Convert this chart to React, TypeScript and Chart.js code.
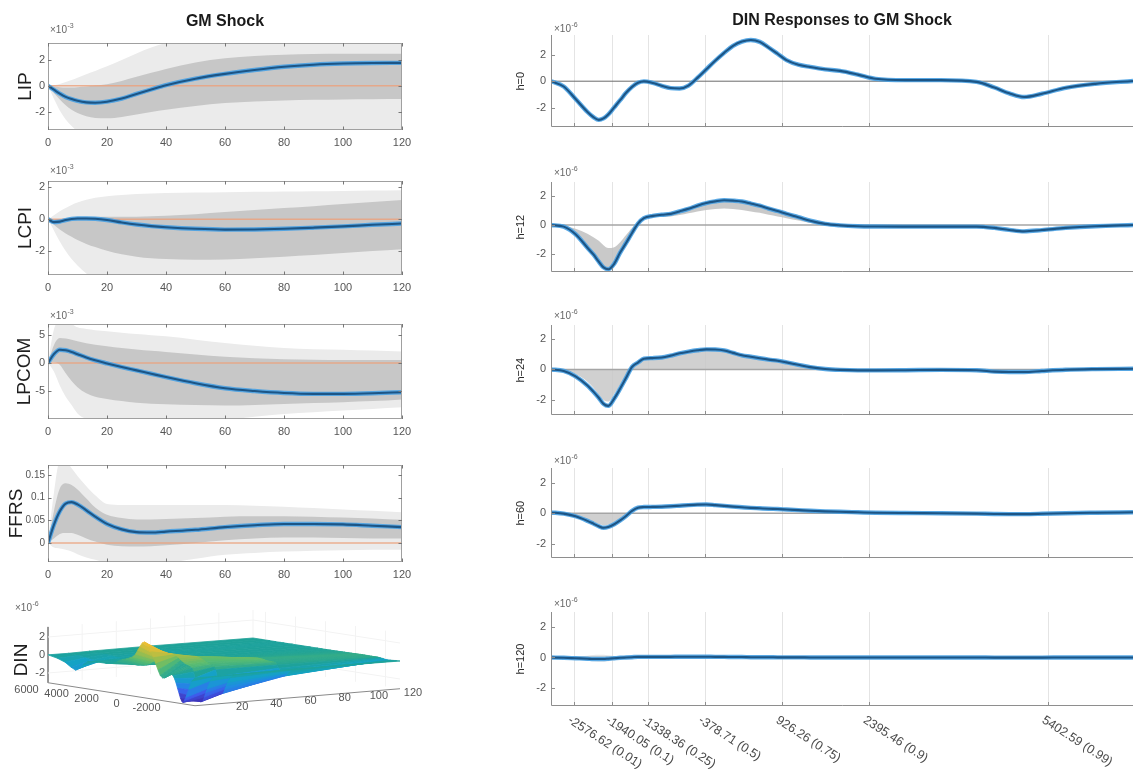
import React, { useEffect, useRef } from 'react';
import { Chart, registerables } from 'chart.js';

Chart.register(...registerables);

const FONT = '"Liberation Sans", Arial, Helvetica, sans-serif';
Chart.defaults.font.family = FONT;

// ---------------- Left column data (impulse responses to GM shock) ----------------
const H_GRID = [0, 2, 4, 6, 8, 10, 13, 16, 20, 25, 30, 35, 40, 50, 60, 70, 80, 90, 100, 110, 120];
const X_TICKS_LEFT = [0, 20, 40, 60, 80, 100, 120];

const LIP_LINE = [0, -0.3, -0.6, -0.85, -1.02, -1.15, -1.27, -1.3, -1.22, -0.98, -0.62, -0.28, 0.05, 0.55, 0.92, 1.22, 1.47, 1.63, 1.72, 1.76, 1.77];
const LIP_DARK_HI = [0, -0.05, -0.1, -0.12, -0.12, -0.1, -0.05, 0.02, 0.12, 0.38, 0.7, 1.0, 1.3, 1.8, 2.12, 2.3, 2.4, 2.45, 2.47, 2.48, 2.48];
const LIP_DARK_LO = [0, -0.55, -1.05, -1.5, -1.85, -2.1, -2.35, -2.48, -2.5, -2.4, -2.2, -2.02, -1.85, -1.55, -1.32, -1.2, -1.12, -1.08, -1.05, -1.03, -1.02];
const LIP_LIGHT_HI = [0, 0.05, 0.15, 0.3, 0.45, 0.62, 0.9, 1.15, 1.5, 2.0, 2.5, 2.95, 3.3, 3.8, 4.0, 4.0, 4.0, 4.0, 4.0, 4.0, 4.0];
const LIP_LIGHT_LO = [0, -1.0, -1.9, -2.6, -3.1, -3.5, -3.8, -4.0, -4.0, -4.0, -4.0, -4.0, -4.0, -4.0, -4.0, -4.0, -4.0, -4.0, -4.0, -4.0, -4.0];

const LCPI_LINE = [0, -0.18, -0.15, -0.05, 0.02, 0.05, 0.05, 0.03, -0.05, -0.2, -0.33, -0.43, -0.5, -0.6, -0.65, -0.64, -0.6, -0.53, -0.45, -0.35, -0.27];
const LCPI_DARK_HI = [0, 0, 0.02, 0.05, 0.08, 0.1, 0.12, 0.14, 0.15, 0.15, 0.15, 0.18, 0.22, 0.32, 0.45, 0.58, 0.7, 0.82, 0.95, 1.08, 1.2];
const LCPI_DARK_LO = [0, -0.35, -0.65, -0.9, -1.1, -1.3, -1.55, -1.75, -1.98, -2.2, -2.35, -2.45, -2.5, -2.55, -2.52, -2.45, -2.35, -2.25, -2.12, -2.0, -1.88];
const LCPI_LIGHT_HI = [0, 0.25, 0.5, 0.7, 0.9, 1.05, 1.22, 1.35, 1.45, 1.52, 1.58, 1.62, 1.65, 1.68, 1.7, 1.72, 1.74, 1.76, 1.78, 1.8, 1.82];
const LCPI_LIGHT_LO = [0, -0.7, -1.4, -2.0, -2.5, -2.9, -3.4, -3.8, -4.0, -4.0, -4.0, -4.0, -4.0, -4.0, -4.0, -4.0, -4.0, -4.0, -4.0, -4.0, -4.0];

const LPCOM_LINE = [0, 1.6, 2.4, 2.3, 2.0, 1.6, 1.0, 0.5, -0.05, -0.7, -1.3, -1.9, -2.5, -3.6, -4.5, -5.0, -5.35, -5.5, -5.5, -5.4, -5.2];
const LPCOM_DARK_HI = [0, 3.2, 4.5, 4.4, 4.2, 3.9, 3.55, 3.3, 3.0, 2.7, 2.45, 2.2, 2.0, 1.55, 1.15, 0.88, 0.7, 0.6, 0.55, 0.55, 0.55];
const LPCOM_DARK_LO = [0, 0.2, -0.3, -1.8, -3.2, -4.3, -5.4, -6.0, -6.4, -6.8, -7.1, -7.25, -7.35, -7.5, -7.6, -7.5, -7.3, -7.15, -7.0, -6.8, -6.5];
const LPCOM_LIGHT_HI = [0, 6.0, 7.5, 7.5, 7.0, 6.4, 6.1, 5.9, 5.7, 5.45, 5.2, 5.0, 4.8, 4.2, 3.6, 3.1, 2.7, 2.5, 2.4, 2.25, 2.1];
const LPCOM_LIGHT_LO = [0, -1.5, -4.0, -6.0, -7.5, -9.0, -10.0, -10.5, -10.5, -10.5, -10.5, -10.5, -10.5, -10.5, -10.2, -9.6, -9.1, -8.8, -8.5, -8.2, -7.9];

const FFRS_LINE = [0, 0.04, 0.07, 0.087, 0.09, 0.085, 0.072, 0.058, 0.042, 0.03, 0.024, 0.023, 0.025, 0.029, 0.035, 0.039, 0.042, 0.042, 0.041, 0.038, 0.035];
const FFRS_DARK_HI = [0, 0.07, 0.12, 0.132, 0.128, 0.118, 0.098, 0.078, 0.062, 0.055, 0.052, 0.052, 0.053, 0.055, 0.058, 0.059, 0.059, 0.058, 0.056, 0.054, 0.051];
const FFRS_DARK_LO = [0, 0.01, 0.02, 0.022, 0.022, 0.018, 0.01, 0.003, -0.004, -0.007, -0.008, -0.007, -0.005, 0, 0.006, 0.01, 0.012, 0.012, 0.011, 0.01, 0.01];
const FFRS_LIGHT_HI = [0, 0.11, 0.18, 0.18, 0.165, 0.148, 0.125, 0.105, 0.086, 0.084, 0.084, 0.084, 0.084, 0.084, 0.084, 0.082, 0.08, 0.077, 0.074, 0.071, 0.068];
const FFRS_LIGHT_LO = [0, -0.01, -0.012, -0.015, -0.019, -0.025, -0.032, -0.037, -0.045, -0.05, -0.05, -0.05, -0.045, -0.035, -0.026, -0.022, -0.019, -0.017, -0.016, -0.015, -0.015];

const Y_TICKS_LIP = [-2, 0, 2];
const Y_TICKS_LCPI = [-2, 0, 2];
const Y_TICKS_LPCOM = [-5, 0, 5];
const Y_TICKS_FFRS = [0, 0.05, 0.1, 0.15];

// ---------------- Right column data (DIN responses, x10^-6) ----------------
const QGRID = [-2964, -2750, -2550, -2350, -2250, -2160, -2080, -2000, -1900, -1800, -1700, -1600, -1500, -1400, -1250, -1100, -950, -800, -650, -500, -350, -200, -50, 100, 250, 400, 550, 700, 850, 1000, 1200, 1400, 1650, 1900, 2200, 2500, 3000, 3600, 4200, 4500, 4750, 5000, 5300, 5700, 6200, 6833];
const Q_TICKS = [-2576.62, -1940.05, -1338.36, -378.71, 926.26, 2395.46, 5402.59];
const Q_TICK_LABELS = ['-2576.62 (0.01)', '-1940.05 (0.1)', '-1338.36 (0.25)', '-378.71 (0.5)', '926.26 (0.75)', '2395.46 (0.9)', '5402.59 (0.99)'];
const Y_TICKS_DIN = [-2, 0, 2];

const DIN_H0 = [0, -0.4, -1.35, -2.33, -2.72, -2.93, -2.82, -2.52, -1.98, -1.44, -0.88, -0.43, -0.12, -0.01, -0.13, -0.35, -0.52, -0.55, -0.33, 0.25, 0.9, 1.55, 2.15, 2.68, 3.0, 3.12, 2.98, 2.55, 2.08, 1.6, 1.25, 1.08, 0.9, 0.78, 0.5, 0.18, 0.08, 0.08, -0.05, -0.48, -0.92, -1.2, -0.95, -0.5, -0.2, 0.02];
const DIN_H12 = [0, -0.11, -0.64, -1.58, -2.05, -2.55, -2.95, -3.08, -2.7, -1.92, -1.25, -0.55, 0.1, 0.48, 0.64, 0.72, 0.78, 0.95, 1.13, 1.35, 1.53, 1.65, 1.73, 1.7, 1.64, 1.5, 1.35, 1.15, 0.98, 0.78, 0.55, 0.3, 0.08, -0.02, -0.08, -0.1, -0.11, -0.11, -0.11, -0.2, -0.34, -0.44, -0.35, -0.2, -0.08, 0];
const DIN_H24 = [0, -0.1, -0.45, -1.05, -1.45, -1.85, -2.25, -2.38, -1.9, -1.25, -0.55, 0.17, 0.45, 0.7, 0.74, 0.78, 0.9, 1.05, 1.16, 1.25, 1.31, 1.3, 1.24, 1.08, 0.92, 0.83, 0.73, 0.64, 0.57, 0.46, 0.3, 0.15, 0.03, -0.03, -0.06, -0.06, -0.05, -0.03, -0.05, -0.14, -0.17, -0.17, -0.1, -0.02, 0.02, 0.04];
const DIN_H60 = [0.05, -0.03, -0.2, -0.5, -0.68, -0.85, -0.95, -0.9, -0.72, -0.47, -0.18, 0.15, 0.36, 0.4, 0.41, 0.42, 0.45, 0.49, 0.53, 0.56, 0.57, 0.53, 0.48, 0.43, 0.39, 0.35, 0.32, 0.29, 0.27, 0.24, 0.2, 0.16, 0.12, 0.09, 0.06, 0.03, 0.01, 0, -0.03, -0.05, -0.06, -0.06, -0.04, 0, 0.03, 0.06];
const DIN_H120 = [0, -0.02, -0.05, -0.08, -0.1, -0.1, -0.1, -0.08, -0.05, -0.02, 0, 0.02, 0.04, 0.04, 0.04, 0.04, 0.04, 0.05, 0.05, 0.05, 0.05, 0.04, 0.04, 0.03, 0.03, 0.02, 0.02, 0.02, 0.01, 0.01, 0.01, 0, 0, 0, 0, 0, 0, 0, 0, -0.01, -0.01, -0.01, -0.01, 0, 0, 0];

// grey shaded regions
const GRAY12_HI = [0, -0.05, -0.25, -0.6, -0.85, -1.1, -1.4, -1.6, -1.55, -1.2, -0.7, -0.2, 0.1, 0.48, 0.64, 0.72, 0.78, 0.95, 1.13, 1.35, 1.53, 1.65, 1.73, 1.7, 1.64, 1.5, 1.35, 1.15, 0.98, 0.78, 0.55, 0.3, 0.08, -0.02, -0.08, -0.1, -0.11, -0.11, -0.11, -0.2, -0.34, -0.44, -0.35, -0.2, -0.08, 0];
const GRAY12_LO = [0, -0.11, -0.64, -1.58, -2.05, -2.55, -2.95, -3.08, -2.7, -1.92, -1.25, -0.55, 0.1, 0.4, 0.52, 0.58, 0.6, 0.7, 0.82, 0.95, 1.05, 1.12, 1.15, 1.12, 1.05, 0.95, 0.85, 0.72, 0.6, 0.48, 0.32, 0.15, 0.03, -0.02, -0.08, -0.1, -0.11, -0.11, -0.11, -0.2, -0.34, -0.44, -0.35, -0.2, -0.08, 0];
const GRAY24_HI = [0, 0, 0, 0, 0, 0, 0, 0, 0, 0, 0, 0.12, 0.42, 0.65, 0.7, 0.74, 0.85, 0.98, 1.1, 1.2, 1.26, 1.25, 1.19, 1.04, 0.88, 0.78, 0.68, 0.6, 0.52, 0.42, 0.28, 0.14, 0.03, 0, 0, 0, 0, 0, 0, 0, 0, 0, 0, 0, 0, 0];
const GRAY24_LO = [0, -0.05, -0.3, -0.8, -1.2, -1.65, -2.0, -2.1, -1.6, -1.0, -0.4, 0, 0, 0, 0, 0, 0, 0, 0, 0, 0, 0, 0, 0, 0, 0, 0, 0, 0, 0, 0, 0, 0, 0, 0, 0, 0, 0, 0, 0, 0, 0, 0, 0, 0, 0];
const GRAY60_HI = [0, 0, 0, 0, 0, 0, 0, 0, 0, 0, 0, 0, 0, 0, 0, 0, 0, 0, 0, 0, 0, 0, 0, 0, 0, 0, 0, 0, 0, 0, 0, 0, 0, 0, 0, 0, 0, 0, 0, 0, 0, 0, 0, 0, 0, 0];
const GRAY60_LO = [0, -0.02, -0.15, -0.4, -0.55, -0.7, -0.78, -0.75, -0.58, -0.35, -0.12, 0, 0, 0, 0, 0, 0, 0, 0, 0, 0, 0, 0, 0, 0, 0, 0, 0, 0, 0, 0, 0, 0, 0, 0, 0, 0, 0, 0, 0, 0, 0, 0, 0, 0, 0];
const GRAY120_HI = [0, 0.02, 0.06, 0.12, 0.16, 0.18, 0.18, 0.15, 0.1, 0.05, 0, 0, 0, 0, 0, 0, 0, 0, 0, 0, 0, 0, 0, 0, 0, 0, 0, 0, 0, 0, 0, 0, 0, 0, 0, 0, 0, 0, 0, 0, 0, 0, 0, 0, 0, 0];
const GRAY120_LO = [0, -0.05, -0.12, -0.2, -0.25, -0.28, -0.28, -0.25, -0.18, -0.1, 0, 0, 0, 0, 0, 0, 0, 0, 0, 0, 0, 0, 0, 0, 0, 0, 0, 0, 0, 0, 0, 0, 0, 0, 0, 0, 0, 0, 0, 0, 0, 0, 0, 0, 0, 0];

// 3D surface horizons
const H3 = [0, 12, 24, 60, 120];
const H3_TICKS = [20, 40, 60, 80, 100, 120];
const Q3_TICKS = [6000, 4000, 2000, 0, -2000];
const Z3_TICKS = [2, 0, -2];

const Q_MIN = QGRID[0];
const Q_MAX = QGRID[QGRID.length - 1];

// ---------------- styles / layout ----------------
const LINE_CORE = '#1c5586';
const LINE_HALO = 'rgba(72,160,226,0.9)';
const ORANGE = 'rgba(236,160,122,0.8)';
const DARK_BAND = '#c7c7c7';
const LIGHT_BAND = '#ebebeb';
const TICK_COLOR = '#555';

const LEFT_CANVAS_W = 424;
const LEFT_AREA_L = 48;
const LEFT_AREA_R = 402;
const LEFT_PAD_BOTTOM = 24;

const RIGHT_CANVAS_L = 490;
const RIGHT_CANVAS_W = 644;
const RIGHT_AREA_L = 551;
const RIGHT_AREA_R = 1133;

const P3 = { ox: 195, oy: 678, qx: -147, qy: -23, hx: 205, hy: -17, kz: 9 };
const C3 = { left: 0, top: 595, width: 430, height: 125 };

const PARULA = [
  [0.0, 62, 38, 168],
  [0.15, 62, 92, 236],
  [0.3, 32, 140, 226],
  [0.42, 20, 163, 196],
  [0.5, 30, 162, 152],
  [0.62, 90, 188, 112],
  [0.75, 170, 190, 70],
  [0.87, 240, 190, 50],
  [1.0, 250, 238, 22],
];

function parula(t: number): string {
  const tt = Math.max(0, Math.min(1, t));
  for (let k = 0; k < PARULA.length - 1; k++) {
    const a = PARULA[k];
    const b = PARULA[k + 1];
    if (tt <= b[0]) {
      const f = (tt - a[0]) / (b[0] - a[0]);
      const r = Math.round(a[1] + (b[1] - a[1]) * f);
      const g = Math.round(a[2] + (b[2] - a[2]) * f);
      const bl = Math.round(a[3] + (b[3] - a[3]) * f);
      return `rgb(${r},${g},${bl})`;
    }
  }
  return 'rgb(250,238,22)';
}

const pts = (xs: number[], ys: number[]) => xs.map((x, i) => ({ x, y: ys[i] }));

function drawExp(ctx: CanvasRenderingContext2D, x: number, y: number, exp: string) {
  ctx.save();
  ctx.fillStyle = '#666';
  ctx.textAlign = 'left';
  ctx.textBaseline = 'alphabetic';
  ctx.font = `10px ${FONT}`;
  ctx.fillText('×10', x, y);
  const w = ctx.measureText('×10').width;
  ctx.font = `7px ${FONT}`;
  ctx.fillText(exp, x + w + 0.5, y - 5);
  ctx.restore();
}

type LeftSpec = {
  key: string; label: string; labelX: number; tickSize: number; line: number[]; darkHi: number[]; darkLo: number[]; lightHi: number[]; lightLo: number[];
  yMin: number; yMax: number; yTicks: number[]; exp?: string; canvasTop: number; areaTop: number; areaBottom: number;
  expBaseline?: number; title?: string;
};

const LEFT_SPECS: LeftSpec[] = [
  { key: 'LIP', label: 'LIP', labelX: 26, tickSize: 11, line: LIP_LINE, darkHi: LIP_DARK_HI, darkLo: LIP_DARK_LO, lightHi: LIP_LIGHT_HI, lightLo: LIP_LIGHT_LO, yMin: -3.4, yMax: 3.3, yTicks: Y_TICKS_LIP, exp: '-3', canvasTop: 0, areaTop: 43, areaBottom: 130, expBaseline: 33, title: 'GM Shock' },
  { key: 'LCPI', label: 'LCPI', labelX: 26, tickSize: 11, line: LCPI_LINE, darkHi: LCPI_DARK_HI, darkLo: LCPI_DARK_LO, lightHi: LCPI_LIGHT_HI, lightLo: LCPI_LIGHT_LO, yMin: -3.5, yMax: 2.4, yTicks: Y_TICKS_LCPI, exp: '-3', canvasTop: 161, areaTop: 181, areaBottom: 275, expBaseline: 174 },
  { key: 'LPCOM', label: 'LPCOM', labelX: 25, tickSize: 11, line: LPCOM_LINE, darkHi: LPCOM_DARK_HI, darkLo: LPCOM_DARK_LO, lightHi: LPCOM_LIGHT_HI, lightLo: LPCOM_LIGHT_LO, yMin: -10, yMax: 7, yTicks: Y_TICKS_LPCOM, exp: '-3', canvasTop: 304, areaTop: 324, areaBottom: 419, expBaseline: 319 },
  { key: 'FFRS', label: 'FFRS', labelX: 17, tickSize: 10, line: FFRS_LINE, darkHi: FFRS_DARK_HI, darkLo: FFRS_DARK_LO, lightHi: FFRS_LIGHT_HI, lightLo: FFRS_LIGHT_LO, yMin: -0.042, yMax: 0.172, yTicks: Y_TICKS_FFRS, canvasTop: 445, areaTop: 465, areaBottom: 562 },
];

type RightSpec = {
  key: string; label: string; line: number[]; grayHi?: number[]; grayLo?: number[]; grayColor?: string;
  yMin: number; yMax: number; canvasTop: number; areaTop: number; areaBottom: number; padBottom: number;
  expBaseline: number; title?: string; xLabels?: boolean; zeroColor: string; zeroWidth: number;
};

const RIGHT_SPECS: RightSpec[] = [
  { key: 'h0', label: 'h=0', line: DIN_H0, yMin: -3.5, yMax: 3.5, canvasTop: 0, areaTop: 35, areaBottom: 131, padBottom: 8, expBaseline: 32, title: 'DIN Responses to GM Shock', zeroColor: '#6a6a6a', zeroWidth: 1 },
  { key: 'h12', label: 'h=12', line: DIN_H12, grayHi: GRAY12_HI, grayLo: GRAY12_LO, grayColor: 'rgba(192,192,192,0.85)', yMin: -3.3, yMax: 3.0, canvasTop: 160, areaTop: 182, areaBottom: 276, padBottom: 8, expBaseline: 176, zeroColor: '#a5a5a5', zeroWidth: 1.6 },
  { key: 'h24', label: 'h=24', line: DIN_H24, grayHi: GRAY24_HI, grayLo: GRAY24_LO, grayColor: 'rgba(200,200,200,0.85)', yMin: -3.0, yMax: 2.9, canvasTop: 303, areaTop: 325, areaBottom: 419, padBottom: 8, expBaseline: 319, zeroColor: '#a5a5a5', zeroWidth: 1.6 },
  { key: 'h60', label: 'h=60', line: DIN_H60, grayHi: GRAY60_HI, grayLo: GRAY60_LO, grayColor: 'rgba(200,200,200,0.85)', yMin: -2.95, yMax: 2.95, canvasTop: 446, areaTop: 468, areaBottom: 562, padBottom: 8, expBaseline: 464, zeroColor: '#a5a5a5', zeroWidth: 1.6 },
  { key: 'h120', label: 'h=120', line: DIN_H120, grayHi: GRAY120_HI, grayLo: GRAY120_LO, grayColor: 'rgba(215,215,215,0.6)', yMin: -3.2, yMax: 3.0, canvasTop: 590, areaTop: 612, areaBottom: 706, padBottom: 70, expBaseline: 607, xLabels: true, zeroColor: '#a5a5a5', zeroWidth: 1.6 },
];

const fixedTicks = (vals: number[]) => (scale: any) => {
  scale.ticks = vals.map((v) => ({ value: v }));
};

function lineDatasets(xs: number[], ys: number[]) {
  return [
    { data: pts(xs, ys), borderColor: LINE_CORE, borderWidth: 2.1, fill: false, cubicInterpolationMode: 'monotone' },
    { data: pts(xs, ys), borderColor: LINE_HALO, borderWidth: 4.4, fill: false, cubicInterpolationMode: 'monotone' },
  ];
}

function bandDatasets(xs: number[], hi: number[], lo: number[], color: string) {
  return [
    { data: pts(xs, hi), borderColor: 'transparent', borderWidth: 0, fill: '+1', backgroundColor: color, cubicInterpolationMode: 'monotone' },
    { data: pts(xs, lo), borderColor: 'transparent', borderWidth: 0, fill: false, cubicInterpolationMode: 'monotone' },
  ];
}

function buildLeft(s: LeftSpec) {
  const padTop = s.areaTop - s.canvasTop;
  const decor = {
    id: 'decorLeft',
    afterDraw(chart: any) {
      const { ctx, chartArea: a, scales } = chart;
      ctx.save();
      ctx.strokeStyle = '#a0a0a0';
      ctx.lineWidth = 1;
      ctx.strokeRect(Math.round(a.left) + 0.5, Math.round(a.top) + 0.5, Math.round(a.right - a.left) - 1, Math.round(a.bottom - a.top) - 1);
      ctx.strokeStyle = '#777';
      ctx.beginPath();
      for (const v of X_TICKS_LEFT) {
        const x = Math.round(scales.x.getPixelForValue(v)) + 0.5;
        ctx.moveTo(x, a.bottom); ctx.lineTo(x, a.bottom - 3.5);
        ctx.moveTo(x, a.top); ctx.lineTo(x, a.top + 3.5);
      }
      for (const v of s.yTicks) {
        const y = Math.round(scales.y.getPixelForValue(v)) + 0.5;
        ctx.moveTo(a.left, y); ctx.lineTo(a.left + 3.5, y);
        ctx.moveTo(a.right, y); ctx.lineTo(a.right - 3.5, y);
      }
      ctx.stroke();
      ctx.fillStyle = '#1e1e1e';
      ctx.font = `19px ${FONT}`;
      ctx.textAlign = 'center';
      ctx.textBaseline = 'middle';
      ctx.translate(s.labelX, (a.top + a.bottom) / 2);
      ctx.rotate(-Math.PI / 2);
      ctx.fillText(s.label, 0, 0);
      ctx.restore();
      if (s.exp && s.expBaseline !== undefined) drawExp(ctx, a.left + 2, s.expBaseline - s.canvasTop, s.exp);
      if (s.title) {
        ctx.save();
        ctx.fillStyle = '#1a1a1a';
        ctx.font = `bold 16px ${FONT}`;
        ctx.textAlign = 'center';
        ctx.textBaseline = 'middle';
        ctx.fillText(s.title, (a.left + a.right) / 2, 22 - s.canvasTop);
        ctx.restore();
      }
    },
  };
  return {
    type: 'line',
    data: {
      datasets: [
        ...lineDatasets(H_GRID, s.line),
        { data: [{ x: 0, y: 0 }, { x: 120, y: 0 }], borderColor: ORANGE, borderWidth: 1.5, fill: false },
        ...bandDatasets(H_GRID, s.darkHi, s.darkLo, DARK_BAND),
        ...bandDatasets(H_GRID, s.lightHi, s.lightLo, LIGHT_BAND),
      ],
    },
    options: {
      responsive: false,
      animation: false,
      events: [],
      layout: { padding: { top: padTop, right: LEFT_CANVAS_W - LEFT_AREA_R, left: 0, bottom: 0 } },
      plugins: { legend: { display: false }, tooltip: { enabled: false } },
      elements: { point: { radius: 0 } },
      scales: {
        x: {
          type: 'linear', min: 0, max: 120,
          afterBuildTicks: fixedTicks(X_TICKS_LEFT),
          afterFit: (sc: any) => { sc.height = LEFT_PAD_BOTTOM; },
          grid: { display: false, drawTicks: false },
          border: { display: false },
          ticks: { color: TICK_COLOR, font: { size: 11, family: FONT }, padding: 6, maxRotation: 0, autoSkip: false },
        },
        y: {
          type: 'linear', min: s.yMin, max: s.yMax,
          afterBuildTicks: fixedTicks(s.yTicks),
          afterFit: (sc: any) => { sc.width = LEFT_AREA_L; },
          grid: { display: false, drawTicks: false },
          border: { display: false },
          ticks: { color: TICK_COLOR, font: { size: s.tickSize, family: FONT }, padding: 3, autoSkip: false, callback: (v: number) => String(v) },
        },
      },
    },
    plugins: [decor],
  };
}

function buildRight(s: RightSpec) {
  const padTop = s.areaTop - s.canvasTop;
  const grid = {
    id: 'gridRight',
    beforeDraw(chart: any) {
      const { ctx, chartArea: a, scales } = chart;
      ctx.save();
      ctx.strokeStyle = '#e4e4e4';
      ctx.lineWidth = 1;
      ctx.beginPath();
      for (const v of Q_TICKS) {
        const x = Math.round(scales.x.getPixelForValue(v)) + 0.5;
        ctx.moveTo(x, a.top); ctx.lineTo(x, a.bottom);
      }
      ctx.stroke();
      ctx.restore();
    },
  };
  const decor = {
    id: 'decorRight',
    afterDraw(chart: any) {
      const { ctx, chartArea: a, scales } = chart;
      ctx.save();
      ctx.strokeStyle = '#8e8e8e';
      ctx.lineWidth = 1;
      ctx.beginPath();
      const lx = Math.round(a.left) + 0.5;
      const by = Math.round(a.bottom) - 0.5;
      ctx.moveTo(lx, a.top); ctx.lineTo(lx, by); ctx.lineTo(a.right, by);
      for (const v of Q_TICKS) {
        const x = Math.round(scales.x.getPixelForValue(v)) + 0.5;
        ctx.moveTo(x, by); ctx.lineTo(x, by - 3.5);
      }
      for (const v of Y_TICKS_DIN) {
        const y = Math.round(scales.y.getPixelForValue(v)) + 0.5;
        ctx.moveTo(lx, y); ctx.lineTo(lx + 3.5, y);
      }
      ctx.stroke();
      ctx.fillStyle = '#2a2a2a';
      ctx.font = `11px ${FONT}`;
      ctx.textAlign = 'center';
      ctx.textBaseline = 'middle';
      ctx.translate(521 - RIGHT_CANVAS_L, (a.top + a.bottom) / 2);
      ctx.rotate(-Math.PI / 2);
      ctx.fillText(s.label, 0, 0);
      ctx.restore();
      drawExp(ctx, a.left + 3, s.expBaseline - s.canvasTop, '-6');
      if (s.title) {
        ctx.save();
        ctx.fillStyle = '#1a1a1a';
        ctx.font = `bold 16px ${FONT}`;
        ctx.textAlign = 'center';
        ctx.textBaseline = 'middle';
        ctx.fillText(s.title, (a.left + a.right) / 2, 21 - s.canvasTop);
        ctx.restore();
      }
      if (s.xLabels) {
        ctx.save();
        ctx.fillStyle = '#4a4a4a';
        ctx.font = `12.5px ${FONT}`;
        ctx.textAlign = 'left';
        ctx.textBaseline = 'middle';
        Q_TICKS.forEach((v, i) => {
          const x = scales.x.getPixelForValue(v);
          ctx.save();
          ctx.translate(x - 5, a.bottom + 13);
          ctx.rotate((33 * Math.PI) / 180);
          ctx.fillText(Q_TICK_LABELS[i], 0, 0);
          ctx.restore();
        });
        ctx.restore();
      }
    },
  };
  const datasets: any[] = [
    ...lineDatasets(QGRID, s.line),
    { data: [{ x: Q_MIN, y: 0 }, { x: Q_MAX, y: 0 }], borderColor: s.zeroColor, borderWidth: s.zeroWidth, fill: false },
  ];
  if (s.grayHi && s.grayLo) datasets.push(...bandDatasets(QGRID, s.grayHi, s.grayLo, s.grayColor || '#ccc'));
  return {
    type: 'line',
    data: { datasets },
    options: {
      responsive: false,
      animation: false,
      events: [],
      layout: { padding: { top: padTop, right: RIGHT_CANVAS_L + RIGHT_CANVAS_W - RIGHT_AREA_R, left: 0, bottom: 0 } },
      plugins: { legend: { display: false }, tooltip: { enabled: false } },
      elements: { point: { radius: 0 } },
      scales: {
        x: {
          type: 'linear', min: Q_MIN, max: Q_MAX,
          afterFit: (sc: any) => { sc.height = s.padBottom; },
          grid: { display: false, drawTicks: false },
          border: { display: false },
          ticks: { display: false },
        },
        y: {
          type: 'linear', min: s.yMin, max: s.yMax,
          afterBuildTicks: fixedTicks(Y_TICKS_DIN),
          afterFit: (sc: any) => { sc.width = RIGHT_AREA_L - RIGHT_CANVAS_L; },
          grid: { display: false, drawTicks: false },
          border: { display: false },
          ticks: { color: TICK_COLOR, font: { size: 11, family: FONT }, padding: 5, autoSkip: false, callback: (v: number) => String(v) },
        },
      },
    },
    plugins: [grid, decor],
  };
}

function proj(q: number, h: number, z: number) {
  const qf = (q - Q_MIN) / (Q_MAX - Q_MIN);
  const hf = h / 120;
  return { x: P3.ox + qf * P3.qx + hf * P3.hx, y: P3.oy + qf * P3.qy + hf * P3.hy - z * P3.kz };
}

function build3D() {
  const Z = [DIN_H0, DIN_H12, DIN_H24, DIN_H60, DIN_H120];
  let cmin = Infinity;
  let cmax = -Infinity;
  Z.forEach((row) => row.forEach((v) => { cmin = Math.min(cmin, v); cmax = Math.max(cmax, v); }));
  const quads: any[] = [];
  for (let i = 0; i < H3.length - 1; i++) {
    for (let j = 0; j < QGRID.length - 1; j++) {
      const corners = [
        [QGRID[j], H3[i], Z[i][j]],
        [QGRID[j + 1], H3[i], Z[i][j + 1]],
        [QGRID[j + 1], H3[i + 1], Z[i + 1][j + 1]],
        [QGRID[j], H3[i + 1], Z[i + 1][j]],
      ];
      const zAvg = (corners[0][2] + corners[1][2] + corners[2][2] + corners[3][2]) / 4;
      const qf = ((QGRID[j] + QGRID[j + 1]) / 2 - Q_MIN) / (Q_MAX - Q_MIN);
      const hf = (H3[i] + H3[i + 1]) / 2 / 120;
      const depth = -P3.qy * qf - P3.hy * hf;
      const poly = [...corners, corners[0]].map(([q, h, z]) => proj(q, h, z));
      quads.push({ poly, color: parula((zAvg - cmin) / (cmax - cmin)), depth });
    }
  }
  quads.sort((a, b) => a.depth - b.depth);
  const datasets: any[] = quads.map((qd) => ({
    data: qd.poly, borderColor: qd.color, backgroundColor: qd.color, borderWidth: 0.8, fill: 'shape', tension: 0,
  }));
  // back-wall grid (very faint)
  const wall: any[] = [];
  for (const h of H3_TICKS) wall.push([proj(Q_MAX, h, cmin), proj(Q_MAX, h, cmax)]);
  for (const q of Q3_TICKS) wall.push([proj(q, 120, cmin), proj(q, 120, cmax)]);
  for (const z of Z3_TICKS) {
    wall.push([proj(Q_MIN, 120, z), proj(Q_MAX, 120, z), proj(Q_MAX, 0, z)]);
  }
  wall.forEach((w) => datasets.push({ data: w, borderColor: '#f3f3f3', borderWidth: 1, fill: false, tension: 0 }));
  // axes
  datasets.push({ data: [proj(Q_MAX, 0, cmax), proj(Q_MAX, 0, cmin)], borderColor: '#8a8a8a', borderWidth: 1, fill: false, tension: 0 });
  datasets.push({ data: [proj(Q_MAX, 0, cmin), proj(Q_MIN, 0, cmin), proj(Q_MIN, 120, cmin)], borderColor: '#8a8a8a', borderWidth: 1, fill: false, tension: 0 });

  const labels = {
    id: 'labels3D',
    afterDraw(chart: any) {
      const { ctx, scales } = chart;
      const px = (p: { x: number; y: number }) => ({ x: scales.x.getPixelForValue(p.x), y: scales.y.getPixelForValue(p.y) });
      ctx.save();
      ctx.fillStyle = TICK_COLOR;
      ctx.font = `11px ${FONT}`;
      ctx.textBaseline = 'middle';
      ctx.textAlign = 'right';
      for (const z of Z3_TICKS) {
        const p = px(proj(Q_MAX, 0, z));
        ctx.fillText(String(z), p.x - 3, p.y);
      }
      ctx.textAlign = 'center';
      for (const q of Q3_TICKS) {
        const p = px(proj(q, 0, cmin));
        ctx.fillText(String(q), p.x - 34, p.y + 5);
      }
      for (const h of H3_TICKS) {
        const p = px(proj(Q_MIN, h, cmin));
        ctx.fillText(String(h), p.x + 13, p.y + 4);
      }
      ctx.fillStyle = '#1e1e1e';
      ctx.font = `19px ${FONT}`;
      const mid = px(proj(Q_MAX, 0, 0));
      ctx.translate(22, mid.y + 5);
      ctx.rotate(-Math.PI / 2);
      ctx.fillText('DIN', 0, 0);
      ctx.restore();
      drawExp(ctx, 15, 611 - C3.top, '-6');
    },
  };

  return {
    type: 'line',
    data: { datasets },
    options: {
      responsive: false,
      animation: false,
      events: [],
      layout: { padding: 0 },
      plugins: { legend: { display: false }, tooltip: { enabled: false }, filler: { drawTime: 'beforeDatasetDraw' } },
      elements: { point: { radius: 0 } },
      scales: {
        x: { type: 'linear', display: false, min: C3.left, max: C3.left + C3.width },
        y: { type: 'linear', display: false, min: C3.top, max: C3.top + C3.height, reverse: true },
      },
    },
    plugins: [labels],
  };
}

function ChartCanvas({ left, top, width, height, build }: { left: number; top: number; width: number; height: number; build: () => any }) {
  const ref = useRef<HTMLCanvasElement | null>(null);
  useEffect(() => {
    if (!ref.current) return;
    const chart = new Chart(ref.current, build());
    return () => chart.destroy();
  }, []);
  return <canvas ref={ref} width={width} height={height} style={{ position: 'absolute', left, top, width, height }} />;
}

export default function App() {
  return (
    <div style={{ position: 'absolute', left: 0, top: 0, width: 1134, height: 776, background: '#fff', overflow: 'hidden' }}>
      {LEFT_SPECS.map((s) => (
        <ChartCanvas key={s.key} left={0} top={s.canvasTop} width={LEFT_CANVAS_W} height={s.areaBottom - s.canvasTop + LEFT_PAD_BOTTOM} build={() => buildLeft(s)} />
      ))}
      <ChartCanvas left={C3.left} top={C3.top} width={C3.width} height={C3.height} build={build3D} />
      {RIGHT_SPECS.map((s) => (
        <ChartCanvas key={s.key} left={RIGHT_CANVAS_L} top={s.canvasTop} width={RIGHT_CANVAS_W} height={s.areaBottom - s.canvasTop + s.padBottom} build={() => buildRight(s)} />
      ))}
    </div>
  );
}
